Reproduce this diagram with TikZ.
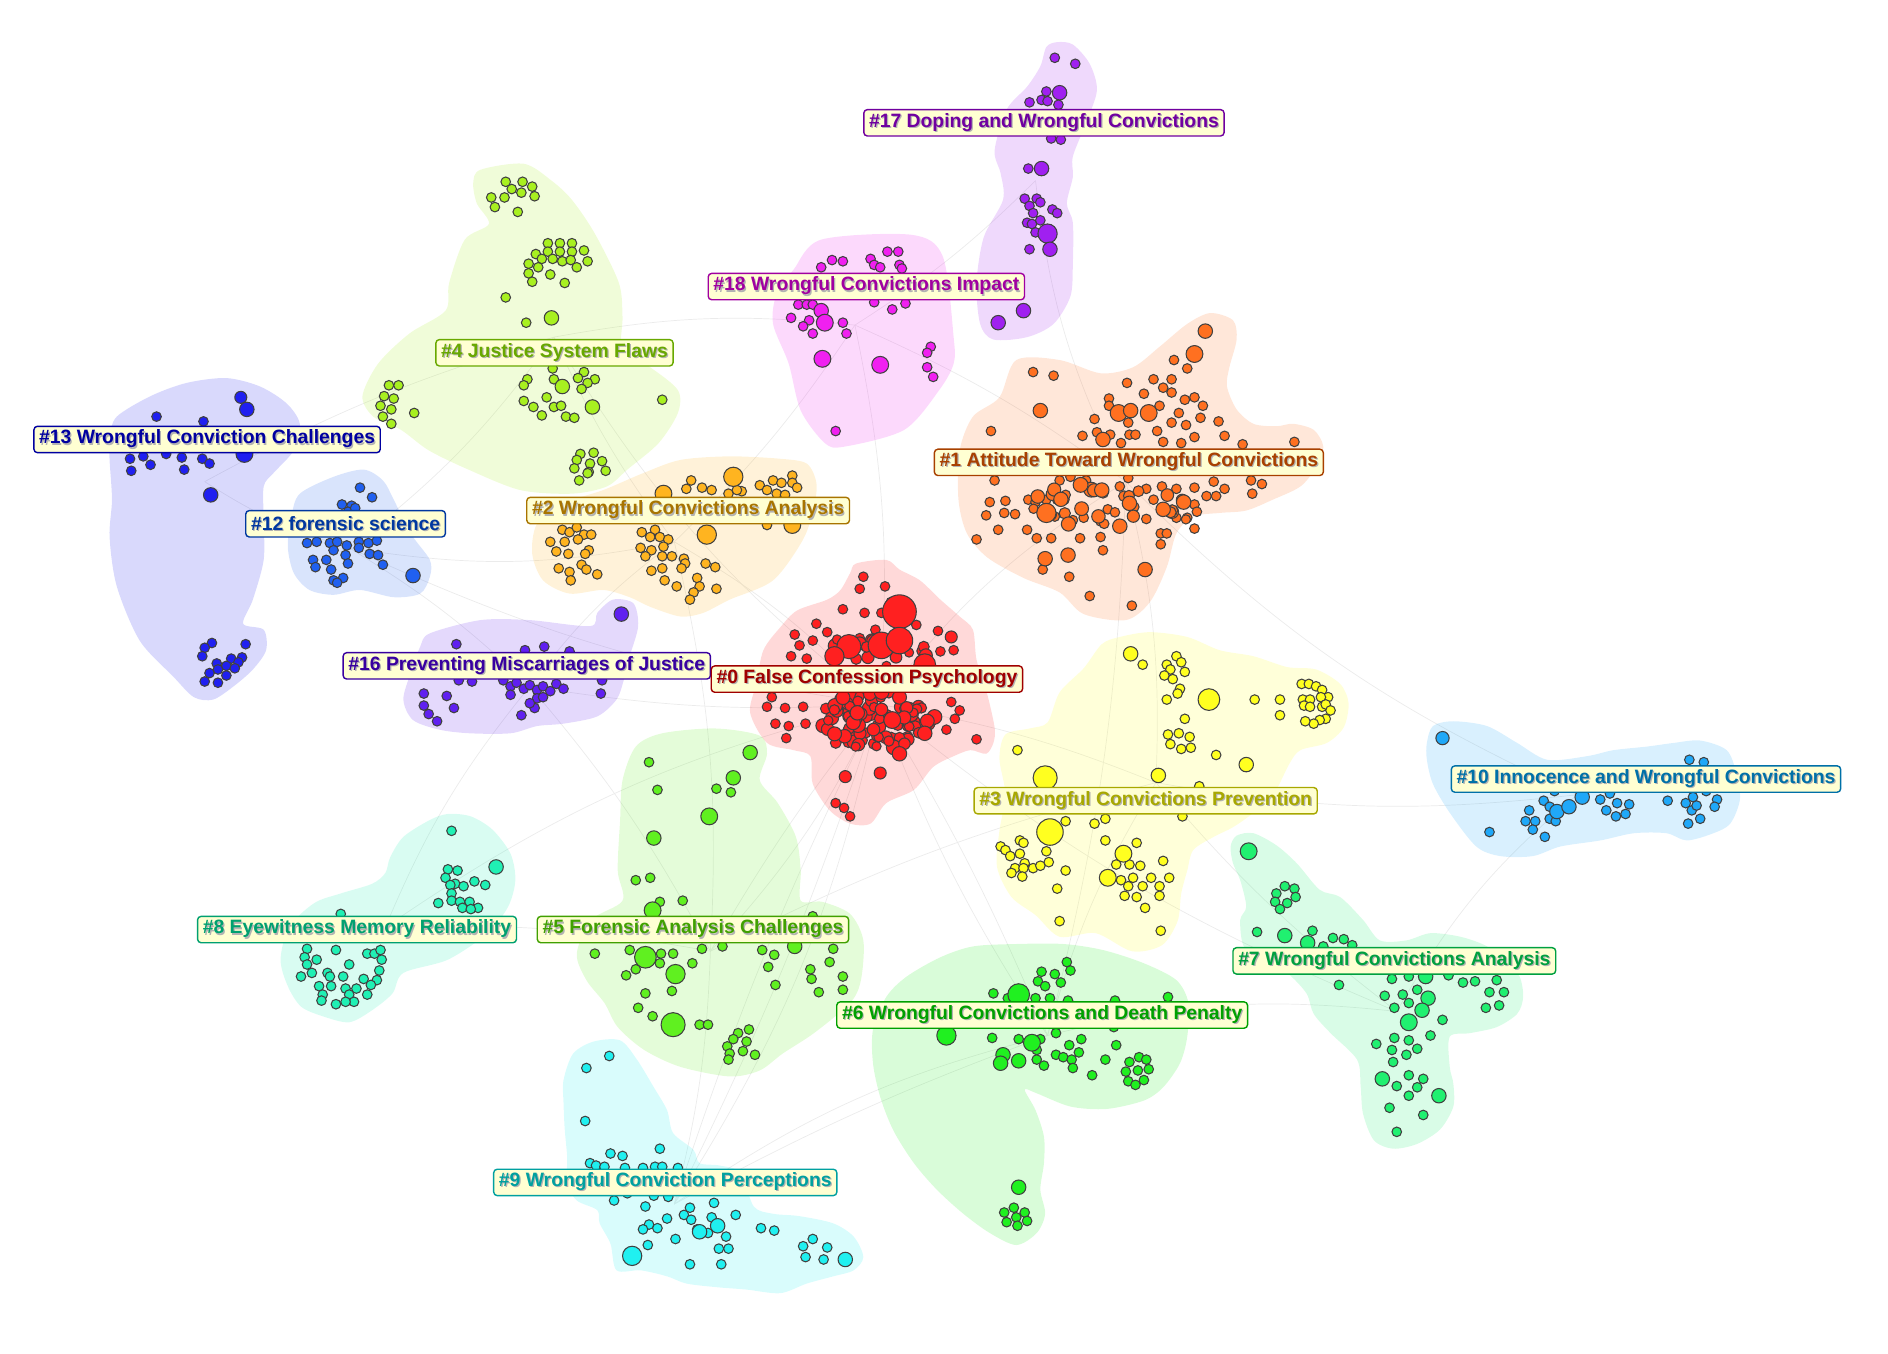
\documentclass[tikz,border=0pt]{standalone}
\usepackage{fontspec}
\setmainfont{Liberation Sans}

% node colours and label colours of the clusters
\definecolor{n0}{HTML}{FF2020}  \definecolor{t0}{HTML}{A00000}
\definecolor{n1}{HTML}{FF7020}  \definecolor{t1}{HTML}{A84000}
\definecolor{n2}{HTML}{FFB420}  \definecolor{t2}{HTML}{A87400}
\definecolor{n3}{HTML}{FFFF20}  \definecolor{t3}{HTML}{A8A800}
\definecolor{n4}{HTML}{A8F020}  \definecolor{t4}{HTML}{68A800}
\definecolor{n5}{HTML}{60F020}  \definecolor{t5}{HTML}{40A000}
\definecolor{n6}{HTML}{20F020}  \definecolor{t6}{HTML}{00A000}
\definecolor{n7}{HTML}{20F070}  \definecolor{t7}{HTML}{00A040}
\definecolor{n8}{HTML}{20F0B4}  \definecolor{t8}{HTML}{00A070}
\definecolor{n9}{HTML}{20F0F0}  \definecolor{t9}{HTML}{00A0A0}
\definecolor{n10}{HTML}{20A8F8} \definecolor{t10}{HTML}{0070A8}
\definecolor{n12}{HTML}{2060F0} \definecolor{t12}{HTML}{0038A0}
\definecolor{n13}{HTML}{2020F0} \definecolor{t13}{HTML}{0000A0}
\definecolor{n16}{HTML}{6020F0} \definecolor{t16}{HTML}{3800A0}
\definecolor{n17}{HTML}{A020F0} \definecolor{t17}{HTML}{7000A0}
\definecolor{n18}{HTML}{F020F0} \definecolor{t18}{HTML}{A000A0}
\definecolor{lblbg}{HTML}{FFFFD2}

\newcommand{\shtext}[2]{\rlap{\hspace{0.35pt}\raisebox{-0.35pt}{\color{black!30}#2}}\textcolor{#1}{#2}}
\newcommand{\pts}[3]{\foreach \x/\y in {#3} \path[cnode,fill=#1] (\x,\y) circle (#2);}
\newcommand{\bigpts}[2]{\foreach \x/\y/\r in {#2} \path[cnode,fill=#1] (\x,\y) circle (\r);}
\newcommand{\randpts}[6]{\foreach \i in {1,...,#6}{%
  \pgfmathsetmacro{\ra}{rnd*360}\pgfmathsetmacro{\rd}{sqrt(rnd)}\pgfmathsetmacro{\rr}{3.8+2.4*rnd}%
  \path[cnode,fill=#1] ({#2+#4*\rd*cos(\ra)},{#3+#5*\rd*sin(\ra)}) circle (\rr);}}

\tikzset{
  cnode/.style={draw=black!75, line width=0.3pt},
  hull/.style={fill=#1, fill opacity=0.17},
  link/.style={draw=black!8, line width=0.2pt},
  clabel/.style={draw=#1, fill=lblbg, rounded corners=1pt, line width=0.4pt,
    inner xsep=1.5pt, inner ysep=0pt, minimum height=7.5pt,
    font=\fontsize{5.5}{6}\selectfont\bfseries}
}

\begin{document}
\begin{tikzpicture}[x=0.12041mm,y=-0.12041mm]
\useasboundingbox (0,0) rectangle (1568,1124);

% centres of the clusters
\coordinate (k0) at (730,585);   \coordinate (k1) at (935,400);
\coordinate (k2) at (560,450);   \coordinate (k3) at (960,650);
\coordinate (k4) at (460,280);   \coordinate (k5) at (590,790);
\coordinate (k6) at (870,860);   \coordinate (k7) at (1160,840);
\coordinate (k8) at (320,770);   \coordinate (k9) at (560,1000);
\coordinate (k10) at (1310,660); \coordinate (k12) at (290,455);
\coordinate (k13) at (170,400);  \coordinate (k16) at (440,570);
\coordinate (k17) at (860,150);  \coordinate (k18) at (710,270);

% faint co-citation links
\foreach \a/\b/\bend in {0/1/10,0/2/-8,0/3/6,0/5/8,0/6/-6,0/9/10,0/9/-4,0/9/4,0/16/6,0/8/-10,0/12/8,
  0/7/-8,0/4/10,1/3/8,1/18/-6,1/17/10,2/4/6,2/16/-8,2/12/10,4/13/-6,4/12/8,5/9/6,6/9/-10,6/9/-4,
  6/3/8,3/7/-6,7/10/10,12/16/6,13/12/-8,8/16/8,5/8/-6,17/18/6,3/10/-8,6/7/10,1/10/-10,4/18/8,
  0/6/4,0/5/-4,1/6/6,2/5/8,3/5/-6,16/5/6,18/0/8,2/18/-6}
  \draw[link] (k\a) to[bend left=\bend] (k\b);

% cluster areas
\fill[hull=n17] plot[smooth cycle] coordinates {(878,35) (891,37) (905,53) (911,75) (902,102) (891,130)
  (891,147) (886,169) (891,185) (891,219) (889,246) (875,269) (853,280) (825,282) (814,269) (811,235)
  (817,197) (833,166) (831,144) (826,125) (836,91) (853,72) (864,55) (869,39)};
\fill[hull=n18] plot[smooth cycle] coordinates {(682,199) (757,195) (783,213) (792,280) (792,302) (780,324)
  (751,357) (701,371) (685,368) (665,341) (655,302) (642,269) (645,244) (659,224)};
\fill[hull=n4] plot[smooth cycle] coordinates {(399,141) (435,136) (458,150) (475,166) (494,194) (514,235)
  (517,263) (517,291) (540,305) (563,324) (563,343) (547,368) (521,390) (504,404) (475,410) (432,407)
  (389,390) (356,374) (333,357) (310,346) (301,329) (314,302) (340,277) (370,258) (373,235) (386,199)
  (406,186) (396,169) (393,152)};
\fill[hull=n13] plot[smooth cycle] coordinates {(97,346) (125,329) (155,318) (188,314) (216,321) (238,335)
  (249,352) (244,374) (227,393) (219,404) (219,432) (219,465) (210,498) (202,518) (219,523) (221,540)
  (210,556) (194,570) (177,581) (161,579) (144,562) (116,532) (97,487) (91,446) (93,415) (91,382) (91,363)};
\fill[hull=n12] plot[smooth cycle] coordinates {(249,410) (277,396) (302,390) (318,399) (327,415) (341,443)
  (357,465) (357,479) (349,493) (327,496) (299,490) (277,494) (257,490) (244,476) (239,454) (242,429)};
\fill[hull=n2] plot[smooth cycle] coordinates {(534,393) (565,382) (606,379) (648,381) (670,385) (678,401)
  (676,421) (667,448) (642,482) (606,498) (584,509) (565,512) (540,504) (523,496) (501,490) (473,493)
  (451,482) (442,460) (446,435) (468,418) (501,407)};
\fill[hull=n1] plot[smooth cycle] coordinates {(844,299) (880,299) (914,310) (941,305) (963,288) (986,269)
  (1005,260) (1024,266) (1027,282) (1021,305) (1019,321) (1027,340) (1041,352) (1060,354) (1074,352)
  (1091,357) (1099,371) (1093,388) (1080,404) (1057,415) (1035,424) (1013,426) (991,429) (977,443)
  (969,471) (955,500) (935,515) (900,510) (880,492) (850,480) (820,463) (803,443) (796,415) (797,374)
  (808,346) (830,330)};
\fill[hull=n16] plot[smooth cycle] coordinates {(357,526) (399,515) (440,515) (490,520) (496,509) (509,498)
  (526,501) (530,520) (523,545) (518,565) (512,581) (496,595) (468,601) (446,603) (424,609) (390,609)
  (365,606) (343,598) (335,581) (341,559) (349,537)};
\fill[hull=n0] plot[smooth cycle] coordinates {(711,468) (736,465) (747,473) (764,482) (781,498) (797,512)
  (808,523) (811,548) (819,573) (826,604) (825,617) (819,626) (806,623) (792,628) (775,637) (759,656)
  (736,667) (723,684) (706,684) (689,673) (675,651) (673,628) (659,623) (637,617) (623,592) (628,568)
  (634,540) (648,521) (662,507) (687,498) (698,490) (706,476)};
\fill[hull=n3] plot[smooth cycle] coordinates {(930,529) (955,525) (986,529) (1013,540) (1041,545) (1069,554)
  (1093,556) (1113,568) (1120,584) (1116,604) (1102,617) (1080,623) (1071,634) (1058,659) (1041,675)
  (1024,687) (1008,695) (991,706) (986,723) (981,742) (978,765) (965,785) (940,790) (910,775) (880,778)
  (860,760) (840,745) (828,720) (830,690) (835,660) (830,630) (835,610) (855,605) (870,600) (880,575)
  (900,555) (915,535)};
\fill[hull=n10] plot[smooth cycle] coordinates {(1185,617) (1190,603) (1207,599) (1235,603) (1260,617)
  (1285,631) (1318,628) (1340,623) (1368,620) (1390,617) (1412,615) (1434,623) (1442,642) (1445,664)
  (1437,684) (1423,692) (1401,698) (1384,692) (1357,692) (1329,698) (1296,703) (1273,711) (1246,711)
  (1226,703) (1204,675) (1190,651) (1185,631)};
\fill[hull=n8] plot[smooth cycle] coordinates {(357,681) (372,676) (391,678) (409,689) (424,709) (428,731)
  (422,753) (405,775) (372,797) (335,808) (326,825) (309,839) (290,849) (268,844) (250,836) (239,819)
  (233,797) (240,770) (261,750) (283,742) (309,734) (320,725) (324,712) (335,695)};
\fill[hull=n5] plot[smooth cycle] coordinates {(528,620) (550,609) (594,605) (631,611) (637,626) (631,648)
  (646,667) (661,695) (665,723) (665,748) (683,749) (706,759) (717,781) (715,814) (706,833) (676,858)
  (650,875) (631,889) (606,894) (565,886) (535,872) (513,853) (502,833) (487,814) (479,792) (491,764)
  (517,748) (513,723) (515,681) (517,648)};
\fill[hull=n6] plot[smooth cycle] coordinates {(725,855) (736,828) (753,811) (781,795) (808,786) (844,784)
  (883,784) (916,789) (950,800) (977,814) (987,833) (986,861) (980,883) (966,903) (950,914) (919,921)
  (889,919) (861,908) (851,905) (860,922) (867,944) (867,966) (864,988) (868,1008) (861,1024) (844,1034)
  (822,1024) (800,1008) (778,988) (759,966) (742,939) (731,911) (725,883)};
\fill[hull=n7] plot[smooth cycle] coordinates {(1022,703) (1027,694) (1041,692) (1060,702) (1077,717)
  (1096,739) (1113,745) (1132,764) (1146,781) (1168,781) (1188,775) (1213,778) (1235,786) (1251,800)
  (1262,811) (1265,828) (1260,842) (1243,853) (1221,858) (1204,861) (1204,886) (1207,900) (1207,919)
  (1196,938) (1177,950) (1157,954) (1141,947) (1132,925) (1130,902) (1127,880) (1105,858) (1091,842)
  (1085,825) (1069,808) (1049,797) (1033,786) (1030,764) (1035,753) (1030,731) (1024,717)};
\fill[hull=n9] plot[smooth cycle] coordinates {(468,897) (476,875) (493,865) (515,864) (529,880) (543,903)
  (554,922) (559,941) (576,955) (581,966) (598,968) (615,974) (626,1002) (642,1008) (664,1010) (692,1016)
  (709,1027) (717,1044) (709,1055) (692,1060) (670,1066) (648,1074) (620,1071) (595,1069) (570,1066)
  (554,1060) (532,1055) (512,1055) (507,1033) (498,1016) (496,1005) (479,997) (471,983) (471,961)
  (469,938) (468,916)};

% papers of the clusters
\pts{n17}{4}{876/48,893/53,869/76,865/83,870/84,855/85,879/87,873/115,881/116,854/140,851/165,861/165,
  864/168,855/171,858/177,874/174,878/177,853/185,857/186,864/183,860/193,855/207}
\bigpts{n17}{880/77/6,865/140/6,870/194/8,872/207/6,850/258/6,829/268/6}

\pts{n18}{4}{691/216,700/217,682/222,723/215,737/209,746/209,726/220,731/222,747/220,749/223,663/253,
  670/253,675/253,657/264,672/266,667/271,675/277,700/268,703/277,773/288,770/293,770/305,775/313,
  694/358,726/251,741/257,752/252}
\bigpts{n18}{682/258/6,685/268/7,683/298/7,731/303/7}

\pts{n4}{4}{420/151,434/151,442/155,425/157,433/160,444/163,408/164,419/164,411/172,430/176,455/202,
  465/202,475/202,445/211,455/209,465/209,475/209,485/208,450/215,459/215,467/217,474/216,488/217,
  439/219,447/222,479/222,439/227,457/228,442/234,469/235,420/247,437/268,459/306,438/315,485/309,
  480/314,494/315,488/318,460/315,435/320,483/323,435/333,454/330,443/338,460/338,466/337,450/345,
  470/346,477/347,550/332,482/377,493/376,479/382,490/385,500/383,477/389,489/392,503/391,481/399,
  488/393,323/320,331/320,319/329,327/331,316/337,325/340,318/346,325/352,344/343}
\bigpts{n4}{458/264/6,467/321/6,492/338/6}

\pts{n13}{4}{130/346,169/350,108/381,119/379,138/377,151/380,168/381,174/385,125/386,109/391,153/390,
  176/534,170/538,204/535,168/545,192/547,201/546,180/551,188/553,198/550,195/555,174/559,181/556,
  188/561,170/566,181/567}
\bigpts{n13}{200/330/5,205/340/6,203/377/7,175/411/6}

\pts{n12}{4}{299/405,309/413,284/419,292/420,289/425,295/422,255/451,263/450,274/451,280/450,288/453,
  298/450,306/451,313/449,260/465,271/465,277/457,287/461,298/455,307/460,314/461,318/469,262/471,
  275/473,289/468,277/482,285/480,280/484}
\bigpts{n12}{343/478/6}

\pts{n2}{4}{574/399,570/406,583/405,591/407,631/403,642/399,649/401,658/395,658/401,662/405,637/407,
  645/410,652/411,616/408,605/410,612/407,637/436,467/440,473/442,479/438,485/444,491/444,457/450,
  469/450,480/448,462/458,472/460,489/457,486/460,464/472,473/475,483/469,487/473,496/477,474/482,
  533/442,544/440,540/446,548/446,555/448,532/455,541/457,551/454,536/462,550/462,558/462,568/464,
  569/468,541/474,550/472,566/472,586/468,594/471,552/482,562/487,579/480,581/487,595/489,576/492,573/498}
\bigpts{n2}{609/396/8,551/410/7,587/444/8,658/436/7}

\pts{n16}{4}{379/535,452/537,436/540,473/541,352/576,371/578,352/586,377/588,356/593,363/599,418/565,
  424/570,429/567,435/572,440/569,446/573,451/570,457/574,424/577,433/594,444/588,446/580,451/579,
  440/584,500/565,499/576,392/566,381/565,462/568,468/572}
\bigpts{n16}{516/510/6}

\pts{n1}{4}{975/299,986/306,858/309,875/312,936/318,950/327,958/315,973/315,966/322,973/326,921/331,
  984/332,992/330,999/337,921/337,963/337,979/343,997/347,909/348,937/351,973/351,985/353,1012/350,
  823/358,899/362,911/359,922/361,931/368,938/361,943/361,961/358,966/367,981/368,992/363,1017/362,
  1032/369,1075/367,826/399,880/399,889/396,902/399,930/404,937/397,952/406,965/404,977/406,992/405,
  1002/412,1017/406,1008/400,1040/410,1048/402,1039/399,822/417,835/416,819/428,834/426,843/427,
  854/415,853/440,829/440,860/417,869/415,878/415,884/415,885/411,876/429,891/432,900/430,914/433,
  917/435,920/423,942/421,952/431,958/415,973/424,977/430,986/430,992/419,992/439,994/425,1010/412,
  811/448,861/447,873/447,897/447,914/446,916/457,866/473,888/479,905/495,964/443,964/452,969/443,940/503}
\pgfmathsetseed{5}
\randpts{n1}{925}{420}{70}{22}{25}
\bigpts{n1}{1001/275/6,992/294/7,929/343/7,939/341/6,954/343/7,864/341/6,916/365/6,915/407/6,869/426/8,
  930/437/6,938/418/6,966/423/6,983/417/6,887/461/6,868/464/6,951/473/6}

\pts{n0}{4}{717/479,714/489,735/487,740/500,700/506,718/509,732/509,761/519,779/524,678/518,687/525,
  660/527,664/536,675/532,792/540,781/541,727/523,714/530,657/545,670/547,641/579,637/587,652/588,
  644/601,655/603,653/613,669/601,667/587,790/583,797/590,793/597,786/606,811/614,694/667,701/671,706/678}
\pgfmathsetseed{11}
\randpts{n0}{727}{598}{50}{26}{95}
\randpts{n0}{728}{540}{55}{14}{20}
\bigpts{n0}{747/508/14,705/537/10,732/536/11,747/532/11,693/545/8,768/552/9,790/529/5,768/609/6,
  747/626/6,702/645/5,731/642/5,741/598/7,712/592/6}

\pts{n3}{4}{949/552,977/545,981/550,969/552,972/556,984/558,967/561,974/564,980/572,978/576,969/581,
  1042/581,1063/581,1063/594,1081/568,1087/568,1093/570,1098/573,1103/579,1097/579,1082/581,1088/581,
  1083/586,1088/587,1098/587,1101/585,1105/590,1101/597,1096/598,1091/601,1084/599,984/597,970/610,
  979/609,988/612,972/618,981/622,989/621,1010/627,845/623,996/653,885/682,909/684,918/680,982/678,
  918/698,944/700,966/715,869/707,871/716,885/723,878/738,880/765,931/731,941/729,956/729,971/729,
  963/736,949/736,937/736,927/718,938/718,947/719,934/744,944/745,963/744,951/754,964/773,831/703,
  835/706,839/711,847/698,850/700,847/709,851/717,843/721,840/725,858/721,864/719,850/721,849/728}
\bigpts{n3}{939/543/6,1004/581/9,1035/635/6,868/646/10,962/644/6,872/691/11,933/709/7,920/729/7}

\pts{n10}{4}{1237/691,1270/673,1267/682,1275/682,1273/689,1283/695,1282/665,1287/670,1287/680,1292/682,
  1291/657,1329/664,1337/659,1334/673,1343/667,1353/668,1342/678,1350/676,1385/665,1400/667,1405/673,
  1409/669,1426/664,1424/670,1412/680,1402/684,1403/631,1415/633,1417/657,1406/662}
\bigpts{n10}{1198/613/5.5,1293/674/6,1303/670/6,1314/662/6}

\pts{n8}{4}{375/690,372/722,380/723,370/729,378/734,374/735,385/736,394/732,403/735,375/742,364/750,
  375/748,382/749,390/749,397/754,384/754,391/755,283/759,255/788,263/797,253/795,255/801,279/789,
  290/801,305/792,311/792,316/789,317/797,315/806,259/808,250/811,272/808,285/811,302/813,313/814,
  308/818,265/819,275/819,287/821,296/821,290/826,268/826,267/831,294/832,287/832,279/834,305/826,274/811}
\bigpts{n8}{412/720/6}

\pts{n5}{4}{539/633,546/656,595/655,607/658,528/731,540/729,548/749,567/748,494/792,523/789,549/792,
  559/792,583/788,600/786,633/789,643/793,692/788,528/805,520/810,548/800,575/800,638/803,673/805,
  689/799,700/811,674/813,644/818,536/825,558/823,700/822,680/824,530/837,542/844,581/851,588/851,
  613/858,622/855,609/863,620/865,604/869,617/873,627/876,606/875,605/880,675/761}
\bigpts{n5}{623/625/6,609/646/6,589/678/7,543/696/6,542/756/7,536/795/9,660/786/6,561/809/8,559/851/10}

\pts{n9}{4}{506/877,487/887,486/931,548/954,507/958,517/960,490/966,495/968,502/969,519/970,534/970,
  544/969,550/969,563/970,510/997,521/991,543/993,555/994,536/1002,593/999,573/1003,568/1009,574/1013,
  591/1011,611/1009,554/1012,539/1017,546/1020,534/1021,579/1021,588/1024,603/1027,561/1029,538/1034,
  597/1037,605/1037,573/1050,599/1050,632/1020,643/1022,667/1035,675/1029,687/1036,669/1044,684/1046}
\bigpts{n9}{596/1018/6,581/1023/6,525/1043/8,702/1046/6}

\pts{n6}{4}{886/799,889/806,865/807,876/809,862/815,881/816,868/819,825/825,837/829,860/829,872/829,
  887/831,926/831,970/828,824/862,846/863,864/863,861/872,877/858,888/868,898/863,896/874,861/880,
  867/885,877/876,883/878,890/880,891/887,907/893,918/880,927/868,925/853,946/878,952/880,938/882,
  945/889,954/888,935/890,950/897,937/898,943/901,842/1003,834/1007,851/1007,844/1011,853/1014,
  836/1015,845/1018}
\bigpts{n6}{846/826/9,786/860/8,857/866/7,833/876/6,831/883/6,846/881/6,846/986/6}

\pts{n7}{4}{1067/736,1075/738,1060/742,1076/745,1059/749,1069/750,1063/755,1044/774,1090/773,1107/779,
  1116/780,1123/785,1099/786,1112/818,1156/813,1170/811,1203/810,1215/816,1225/815,1243/814,1249/824,
  1237/824,1245/835,1234/837,1150/827,1165/826,1177/822,1158/837,1170/833,1198/847,1188/860,1143/867,
  1158/862,1170/864,1156/872,1177/871,1168/876,1157/882,1170/893,1182/896,1160/902,1177/903,1170/910,
  1154/920,1182/926,1160/940}
\bigpts{n7}{1037/707/7,1067/777/6,1086/783/6,1184/811/6,1186/829/6,1181/839/6,1170/849/7,1148/896/6,1195/910/6}

% cluster labels
\node[clabel=t17] (l17) at (867,102) {\shtext{t17}{\#17 Doping and Wrongful Convictions}};
\node[clabel=t18] (l18) at (719.5,238) {\shtext{t18}{\#18 Wrongful Convictions Impact}};
\node[clabel=t4] (l4) at (460.5,293) {\shtext{t4}{\#4 Justice System Flaws}};
\node[clabel=t13] (l13) at (172,365) {\shtext{t13}{\#13 Wrongful Conviction Challenges}};
\node[clabel=t1] (l1) at (937.5,384) {\shtext{t1}{\#1 Attitude Toward Wrongful Convictions}};
\node[clabel=t2] (l2) at (571.5,424) {\shtext{t2}{\#2 Wrongful Convictions Analysis}};
\node[clabel=t12] (l12) at (287,435) {\shtext{t12}{\#12 forensic science}};
\node[clabel=t16] (l16) at (437.5,553) {\shtext{t16}{\#16 Preventing Miscarriages of Justice}};
\node[clabel=t0] (l0) at (720,564) {\shtext{t0}{\#0 False Confession Psychology}};
\node[clabel=t10] (l10) at (1367,647) {\shtext{t10}{\#10 Innocence and Wrongful Convictions}};
\node[clabel=t3] (l3) at (951.5,665) {\shtext{t3}{\#3 Wrongful Convictions Prevention}};
\node[clabel=t8] (l8) at (296.5,772) {\shtext{t8}{\#8 Eyewitness Memory Reliability}};
\node[clabel=t5] (l5) at (575.5,772) {\shtext{t5}{\#5 Forensic Analysis Challenges}};
\node[clabel=t7] (l7) at (1158,798) {\shtext{t7}{\#7 Wrongful Convictions Analysis}};
\node[clabel=t6] (l6) at (865.5,843) {\shtext{t6}{\#6 Wrongful Convictions and Death Penalty}};
\node[clabel=t9] (l9) at (552.5,982) {\shtext{t9}{\#9 Wrongful Conviction Perceptions}};

\end{tikzpicture}
\end{document}
